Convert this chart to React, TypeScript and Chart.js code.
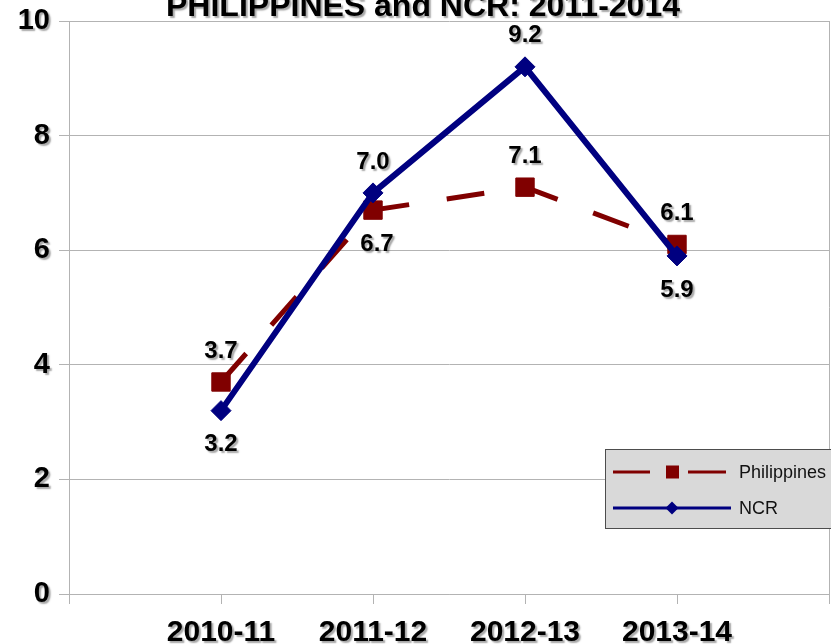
import React, { useEffect, useRef } from "react";
import { Chart, registerables } from "chart.js";

Chart.register(...registerables);

const titleText = "PHILIPPINES and NCR: 2011-2014";
const categories = ["2010-11", "2011-12", "2012-13", "2013-14"];
const philippines = [3.7, 6.7, 7.1, 6.1];
const ncr = [3.2, 7.0, 9.2, 5.9];
const seriesNames = ["Philippines", "NCR"];
const yMin = 0;
const yMax = 10;
const yStep = 2;

// label placement (style only)
const philLabelPos = ["above", "below", "above", "above"];
const ncrLabelPos = ["below", "above", "above", "below"];

const PHIL = "#800000";
const NCR = "#000080";
const GRID = "#b3b3b3";
const FONT = "'Liberation Sans', Arial, sans-serif";

function setShadow(ctx: CanvasRenderingContext2D) {
  ctx.shadowColor = "rgba(0,0,0,0.35)";
  ctx.shadowOffsetX = 2;
  ctx.shadowOffsetY = 2;
  ctx.shadowBlur = 1.5;
}
function clearShadow(ctx: CanvasRenderingContext2D) {
  ctx.shadowColor = "rgba(0,0,0,0)";
  ctx.shadowOffsetX = 0;
  ctx.shadowOffsetY = 0;
  ctx.shadowBlur = 0;
}

function noPad(s: any) {
  s.paddingTop = 0;
  s.paddingBottom = 0;
  s.paddingLeft = 0;
  s.paddingRight = 0;
}

const decorPlugin = {
  id: "decor",
  afterDatasetsDraw(chart: any) {
    // tick labels (z=1) are drawn after this hook: give them a shadow
    setShadow(chart.ctx);
  },
  afterDraw(chart: any) {
    const ctx: CanvasRenderingContext2D = chart.ctx;
    ctx.save();
    setShadow(ctx);
    // data labels
    ctx.fillStyle = "#000";
    ctx.font = `bold 24px ${FONT}`;
    ctx.textAlign = "center";
    ctx.textBaseline = "middle";
    const posSets = [philLabelPos, ncrLabelPos];
    chart.data.datasets.forEach((ds: any, di: number) => {
      const meta = chart.getDatasetMeta(di);
      meta.data.forEach((pt: any, i: number) => {
        const v = ds.data[i];
        if (v === null || v === undefined) return;
        const pos = posSets[di][i - 1];
        const dy = pos === "above" ? -31 : 34;
        const dx = di === 0 && pos === "below" ? 4 : 0;
        ctx.fillText(Number(v).toFixed(1), pt.x + dx, pt.y + dy);
      });
    });
    // title
    ctx.font = `bold 32px ${FONT}`;
    ctx.textBaseline = "alphabetic";
    ctx.fillText(titleText, 423, 16);
    ctx.restore();

    // legend
    ctx.save();
    clearShadow(ctx);
    const lx = 605.5, ly = 449.5, lw = 240, lh = 79;
    ctx.fillStyle = "#d9d9d9";
    ctx.fillRect(lx, ly, lw, lh);
    ctx.strokeStyle = "#4d4d4d";
    ctx.lineWidth = 1;
    ctx.strokeRect(lx, ly, lw, lh);
    // Philippines entry
    const y1 = 472, y2 = 508;
    ctx.strokeStyle = PHIL;
    ctx.lineWidth = 3;
    ctx.beginPath();
    ctx.moveTo(613, y1); ctx.lineTo(650, y1);
    ctx.moveTo(688, y1); ctx.lineTo(726, y1);
    ctx.stroke();
    ctx.fillStyle = PHIL;
    ctx.fillRect(666, y1 - 6.5, 13, 13);
    // NCR entry
    ctx.strokeStyle = NCR;
    ctx.beginPath();
    ctx.moveTo(613, y2); ctx.lineTo(731, y2);
    ctx.stroke();
    ctx.fillStyle = NCR;
    ctx.beginPath();
    ctx.moveTo(672, y2 - 6.5); ctx.lineTo(678.5, y2); ctx.lineTo(672, y2 + 6.5); ctx.lineTo(665.5, y2);
    ctx.closePath();
    ctx.fill();
    ctx.fillStyle = "#111";
    ctx.font = `18px ${FONT}`;
    ctx.textAlign = "left";
    ctx.textBaseline = "middle";
    ctx.fillText(seriesNames[0], 739, y1 + 1);
    ctx.fillText(seriesNames[1], 739, y2 + 1);
    ctx.restore();
    clearShadow(ctx);
  },
};

export default function App() {
  const ref = useRef<HTMLCanvasElement | null>(null);
  useEffect(() => {
    if (!ref.current) return;
    const labels = ["", ...categories, ""];
    const chart = new Chart(ref.current, {
      type: "line",
      data: {
        labels,
        datasets: [
          {
            label: seriesNames[0],
            data: [null, ...philippines, null],
            borderColor: PHIL,
            backgroundColor: PHIL,
            borderWidth: 5,
            borderDash: [38, 38],
            pointStyle: "rect",
            pointRadius: 13,
            pointBackgroundColor: PHIL,
            pointBorderColor: PHIL,
            pointBorderWidth: 1,
            tension: 0,
            order: 1,
          },
          {
            label: seriesNames[1],
            data: [null, ...ncr, null],
            borderColor: NCR,
            backgroundColor: NCR,
            borderWidth: 6,
            pointStyle: "rectRot",
            pointRadius: 10,
            pointBackgroundColor: NCR,
            pointBorderColor: NCR,
            pointBorderWidth: 1,
            tension: 0,
            order: 0,
          },
        ],
      },
      options: {
        responsive: false,
        animation: false,
        layout: { autoPadding: false, padding: { top: 21, right: 2, left: 0, bottom: 0 } },
        plugins: {
          legend: { display: false },
          title: { display: false },
          tooltip: { enabled: false },
        },
        scales: {
          x: {
            type: "category",
            offset: false,
            afterFit: (s: any) => { s.height = 50; noPad(s); },
            grid: {
              display: true,
              drawOnChartArea: true,
              color: (c: any) => (c.index === labels.length - 1 ? GRID : "rgba(0,0,0,0)"),
              tickColor: GRID,
              tickLength: 10,
              lineWidth: 1,
            },
            border: { display: true, color: GRID, width: 1 },
            ticks: {
              z: 1,
              autoSkip: false,
              maxRotation: 0,
              minRotation: 0,
              color: "#000",
              padding: 11,
              font: { family: FONT, size: 30, weight: "bold" },
            },
          },
          y: {
            min: yMin,
            max: yMax,
            afterFit: (s: any) => { s.width = 69; noPad(s); },
            grid: { color: GRID, tickColor: GRID, tickLength: 10, lineWidth: 1 },
            border: { display: true, color: GRID, width: 1 },
            ticks: {
              z: 1,
              stepSize: yStep,
              color: "#000",
              padding: 9,
              font: { family: FONT, size: 29, weight: "bold" },
            },
          },
        },
      },
      plugins: [decorPlugin],
    } as any);
    return () => chart.destroy();
  }, []);
  return (
    <div style={{ position: "fixed", left: 0, top: 0, width: 831, height: 644, background: "#fff" }}>
      <canvas ref={ref} width={831} height={644} style={{ display: "block" }} />
    </div>
  );
}
